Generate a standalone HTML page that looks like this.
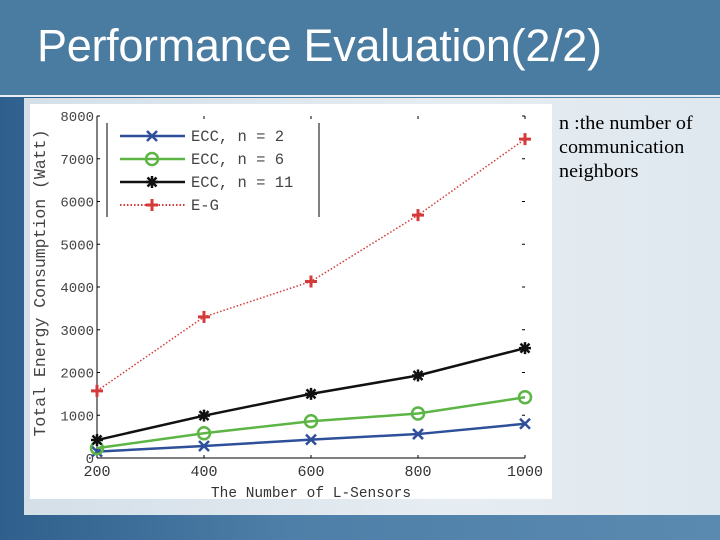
<!DOCTYPE html>
<html><head><meta charset="utf-8"><style>
body{margin:0;width:720px;height:540px;overflow:hidden;background:#3d6d98;font-family:"Liberation Sans",sans-serif}
</style></head><body>
<div style="position:relative;width:720px;height:540px;background:linear-gradient(90deg,#2f5f8c,#4d7fa8 40%,#5b8ab0);">
<div style="position:absolute;left:0;top:0;width:720px;height:95px;background:#4a7ba1;border-bottom:2px solid #e8eef3;"></div>
<div style="position:absolute;left:37px;top:20px;color:#fff;font-size:45px;letter-spacing:-0.3px;">Performance Evaluation(2/2)</div>
<div style="position:absolute;left:24px;top:98px;width:696px;height:417px;background:linear-gradient(90deg,#d4dfe8,#e6edf2 60%,#dfe8ef);"></div>
<div style="position:absolute;left:559px;top:112px;font-family:'Liberation Serif',serif;font-size:19px;line-height:24px;color:#000;transform:scaleX(1.06);transform-origin:left top;">n :the number of<br>communication<br>neighbors</div>
<svg style="position:absolute;left:30px;top:104px" width="522" height="395" viewBox="30 104 522 395" xmlns="http://www.w3.org/2000/svg">
<rect x="30" y="104" width="522" height="395" fill="#fff"/>
<g id="g"></g>
</svg>
</div>
<script>
const categories=[200,400,600,800,1000];
const ecc2=[150,280,430,560,800];
const ecc6=[230,580,860,1040,1420];
const ecc11=[420,990,1500,1930,2570];
const eg=[1570,3300,4130,5680,7460];
const yTicks=[0,1000,2000,3000,4000,5000,6000,7000,8000];
const xTicks=[200,400,600,800,1000];
const seriesNames=["ECC, n = 2","ECC, n = 6","ECC, n = 11","E-G"];
const NS="http://www.w3.org/2000/svg";
const g=document.getElementById('g');
const X0=97,X1=525,Y0=458,Y1=116;
const xs=v=>X0+(v-200)/800*(X1-X0);
const ys=v=>Y0-v/8000*(Y0-Y1);
function mk(t,a,p){const e=document.createElementNS(NS,t);for(const k in a)e.setAttribute(k,a[k]);(p||g).appendChild(e);return e;}
const mono='"Liberation Mono",monospace';
mk('line',{x1:X0,y1:Y0,x2:X1,y2:Y0,stroke:'#000','stroke-width':1});
mk('line',{x1:X0,y1:Y0,x2:X0,y2:Y1,stroke:'#000','stroke-width':1});
yTicks.forEach(v=>{const y=ys(v);
 mk('line',{x1:X0,y1:y,x2:X0+3,y2:y,stroke:'#000'});
 mk('line',{x1:X1,y1:y,x2:X1-3,y2:y,stroke:'#000'});
 const t=mk('text',{x:X0-3,y:y+5,'text-anchor':'end','font-size':14,'font-family':mono,fill:'#444'});t.textContent=v;
 });
xTicks.forEach(v=>{const x=xs(v);
 mk('line',{x1:x,y1:Y0,x2:x,y2:Y0-3,stroke:'#000'});
 mk('line',{x1:x,y1:Y1,x2:x,y2:Y1+3,stroke:'#000'});
 const t=mk('text',{x:x,y:Y0+18,'text-anchor':'middle','font-size':15,'font-family':mono,fill:'#333'});t.textContent=v;
 });
let t=mk('text',{x:(X0+X1)/2,y:497,'text-anchor':'middle','font-size':14.5,'font-family':mono,fill:'#333'});t.textContent='The Number of L-Sensors';

t=mk('text',{x:0,y:0,transform:'translate(45,283) rotate(-90)','text-anchor':'middle','font-size':16.5,'font-family':mono,fill:'#444'});t.textContent='Total Energy Consumption (Watt)';

function marker(type,x,y,c,p){
 if(type==='x'){mk('path',{d:`M${x-5} ${y-5}L${x+5} ${y+5}M${x-5} ${y+5}L${x+5} ${y-5}`,stroke:c,'stroke-width':2.5},p);}
 else if(type==='o'){mk('circle',{cx:x,cy:y,r:6,fill:'none',stroke:c,'stroke-width':2.5},p);}
 else if(type==='*'){mk('path',{d:`M${x-6} ${y}L${x+6} ${y}M${x} ${y-6}L${x} ${y+6}M${x-4.5} ${y-4.5}L${x+4.5} ${y+4.5}M${x-4.5} ${y+4.5}L${x+4.5} ${y-4.5}`,stroke:c,'stroke-width':2.5},p);}
 else {mk('path',{d:`M${x-6} ${y}L${x+6} ${y}M${x} ${y-6}L${x} ${y+6}`,stroke:c,'stroke-width':3},p);}
}
const series=[[ecc2,'#2e4f9a','x',''],[ecc6,'#5cb545','o',''],[ecc11,'#111','*',''],[eg,'#d43a3a','+','1.5 2']];
series.forEach((s,i)=>{
 const grp=mk('g',{});
 
 
 const pts=s[0].map((v,j)=>xs(categories[j])+','+ys(v)).join(' ');
 const a={points:pts,fill:'none',stroke:s[1],'stroke-width':i===3?1.5:2.5};
 if(s[3])a['stroke-dasharray']=s[3];
 mk('polyline',a,grp);
 s[0].forEach((v,j)=>marker(s[2],xs(categories[j]),ys(v),s[1],grp));
});
const lg=mk('g',{});


mk('line',{x1:107,y1:123,x2:107,y2:217,stroke:'#000'},lg);
mk('line',{x1:319,y1:123,x2:319,y2:217,stroke:'#000'},lg);
series.forEach((s,i)=>{const y=136+i*23;
 const a={x1:120,y1:y,x2:185,y2:y,stroke:s[1],'stroke-width':i===3?2:2.5};
 if(s[3])a['stroke-dasharray']=s[3];
 mk('line',a,lg);marker(s[2],152,y,s[1],lg);
 const tt=mk('text',{x:191,y:y+5,'font-size':15.5,'font-family':mono,fill:'#444'},lg);tt.textContent=seriesNames[i];
 
});
</script>
</body></html>
